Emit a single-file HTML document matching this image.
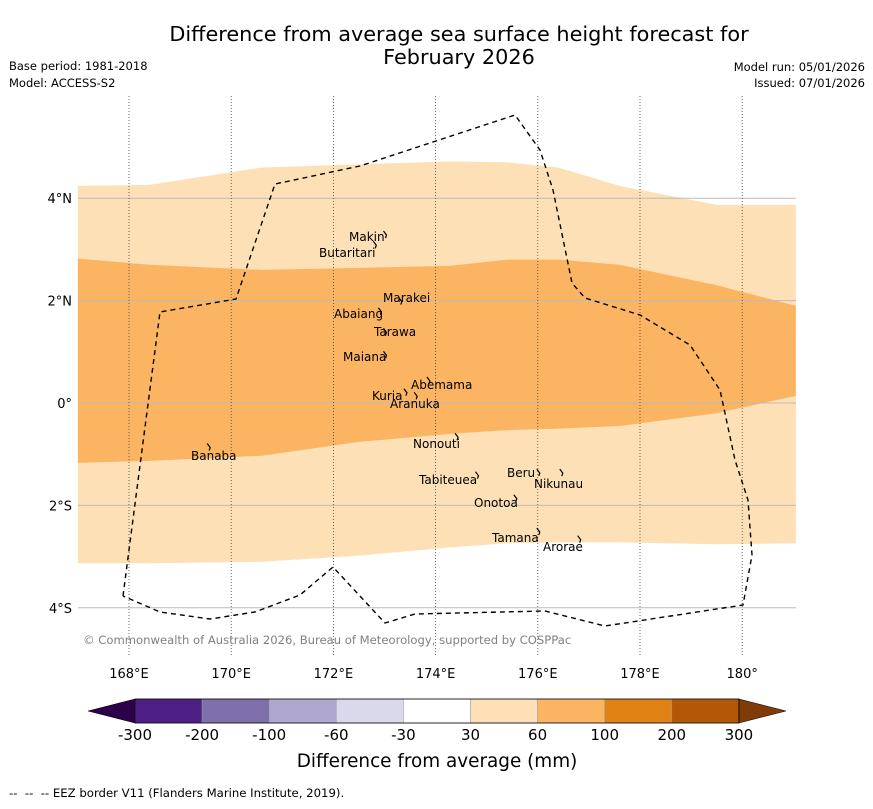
<!DOCTYPE html>
<html><head><meta charset="utf-8"><style>
body{margin:0;background:#fff;font-family:"Liberation Sans","DejaVu Sans",sans-serif}
svg text{font-family:"DejaVu Sans","Liberation Sans",sans-serif}
</style></head><body>
<svg id="chart" width="873" height="804" viewBox="0 0 873 804" xmlns="http://www.w3.org/2000/svg">
<rect width="873" height="804" fill="#fff"/>
<text x="459" y="41" font-size="20.8" text-anchor="middle">Difference from average sea surface height forecast for</text>
<text x="459" y="64" font-size="20.8" text-anchor="middle">February 2026</text>
<text x="9" y="70" font-size="11.5">Base period: 1981-2018</text>
<text x="9" y="87" font-size="11.5">Model: ACCESS-S2</text>
<text x="865" y="71" font-size="11.5" text-anchor="end">Model run: 05/01/2026</text>
<text x="865" y="87" font-size="11.5" text-anchor="end">Issued: 07/01/2026</text>
<g id="map"></g>
<g id="cbar"></g>
<text x="437" y="767" font-size="18.4" text-anchor="middle">Difference from average (mm)</text>
<text x="9" y="797" font-size="11.7" xml:space="preserve">--  --  -- EEZ border V11 (Flanders Marine Institute, 2019).</text>
</svg>
<script>
const NS="http://www.w3.org/2000/svg";
const bandLons=[167.0,168.4,170.6,172.5,174.3,175.4,176.4,177.6,179.5,181.05];
const lightTop=[4.24,4.26,4.6,4.66,4.72,4.7,4.6,4.24,3.87,3.87];
const darkTop=[2.82,2.7,2.6,2.64,2.68,2.8,2.8,2.7,2.3,1.9];
const darkBottom=[-1.17,-1.13,-1.03,-0.76,-0.6,-0.53,-0.5,-0.45,-0.2,0.14];
const lightBottom=[-3.13,-3.13,-3.1,-2.98,-2.82,-2.74,-2.72,-2.72,-2.76,-2.74];
const lonTicks=[168,170,172,174,176,178,180];
const lonLabels=["168°E","170°E","172°E","174°E","176°E","178°E","180°"];
const latTicks=[4,2,0,-2,-4];
const latLabels=["4°N","2°N","0°","2°S","4°S"];
const cbarLabels=["-300","-200","-100","-60","-30","30","60","100","200","300"];
const cbarColors=["#4e1f85","#7f6faa","#afa7d0","#d9d9eb","#ffffff","#fee0b6","#fbb462","#e08214","#b35806"];
const islands=[["Makin",173.0,3.3,349,241],["Butaritari",172.8,3.1,319,257],["Marakei",173.3,2.0,383,302],["Abaiang",172.9,1.8,334,318],["Tarawa",173.0,1.4,374,336],["Maiana",173.0,0.95,343,361],["Abemama",173.85,0.45,411,389],["Kuria",173.4,0.22,372,400],["Aranuka",173.6,0.15,390,408],["Nonouti",174.4,-0.65,413,448],["Banaba",169.55,-0.85,191,460],["Beru",176.0,-1.35,507,477],["Nikunau",176.45,-1.35,534,488],["Tabiteuea",174.8,-1.4,419,484],["Onotoa",175.55,-1.85,474,507],["Tamana",176.0,-2.5,492,542],["Arorae",176.8,-2.65,543,551]];
const x0=78,x1=796,y0=96,y1=655;
const X=l=>129+(l-168)*51.1;
const Y=a=>403-a*51.2;
const map=document.getElementById('map');
function el(t,a,p){const e=document.createElementNS(NS,t);for(const k in a)e.setAttribute(k,a[k]);(p||map).appendChild(e);return e;}
function poly(top,bot,fill,name){
 let d=bandLons.map((l,i)=>(i?'L':'M')+X(l)+','+Y(top[i])).join('');
 for(let i=bandLons.length-1;i>=0;i--)d+='L'+X(bandLons[i])+','+Y(bot[i]);
 const p=el('path',{d:d+'Z',fill:fill});
 
 
}
poly(lightTop,lightBottom,"#fee0b6","band-30-60");
poly(darkTop,darkBottom,"#fbb462","band-60-100");
latTicks.forEach((a,i)=>{
 const g=el('line',{x1:x0,x2:x1,y1:Y(a),y2:Y(a),stroke:'#bbb','stroke-width':1});
 
 
 const t=el('text',{x:72,y:Y(a)+5,'font-size':13,'text-anchor':'end'});t.textContent=latLabels[i];
 
 
});
lonTicks.forEach((l,i)=>{
 const g=el('line',{x1:X(l),x2:X(l),y1:y0,y2:y1,stroke:'#444','stroke-width':0.8,'stroke-dasharray':'1,2'});
 
 
 const t=el('text',{x:X(l),y:678,'font-size':13,'text-anchor':'middle'});t.textContent=lonLabels[i];
 
 
});
const eez=el('path',{d:'M123,596L160,312L236,299L275,184L360,166L515,115L540,150L553,190L572,283L585,298L640,315L690,345L720,390L735,460L748,500L752,555L743,605L605,626L545,611L415,614L385,623L333,567L300,595L255,612L210,619L160,612L123,596',fill:'none',stroke:'#000','stroke-width':1.4,'stroke-dasharray':'5,4'});


islands.forEach(s=>{
 const d=el('path',{d:`M${X(s[1])-1},${Y(s[2])-3}l3,4l-1,3`,stroke:'#000','stroke-width':1.2,fill:'none'});
 
 
 const t=el('text',{x:s[3],y:s[4],'font-size':12});t.textContent=s[0];
 
 
});
const cp=el('text',{x:83,y:644,'font-size':11.6,fill:'#808080'});cp.textContent='© Commonwealth of Australia 2026, Bureau of Meteorology, supported by COSPPac';


const cb=document.getElementById('cbar');
const cx0=135,cw=67.1,cy=699,ch=24;
const la=el('path',{d:`M88,711L${cx0},${cy}L${cx0},${cy+ch}Z`,fill:'#2d004b',stroke:'#000','stroke-width':0.5},cb);


cbarColors.forEach((c,i)=>{
 const r=el('rect',{x:cx0+i*cw,y:cy,width:cw,height:ch,fill:c,stroke:'#999','stroke-width':0.5},cb);
 
 
});
const ra=el('path',{d:`M${cx0+9*cw},${cy}L786,711L${cx0+9*cw},${cy+ch}Z`,fill:'#7f3b08',stroke:'#000','stroke-width':0.5},cb);


el('rect',{x:cx0,y:cy,width:9*cw,height:ch,fill:'none',stroke:'#000','stroke-width':0.8},cb);
cbarLabels.forEach((s,i)=>{
 const t=el('text',{x:cx0+i*cw,y:740,'font-size':15,'text-anchor':'middle'},cb);t.textContent=s;
 
 
});
</script>
</body></html>
